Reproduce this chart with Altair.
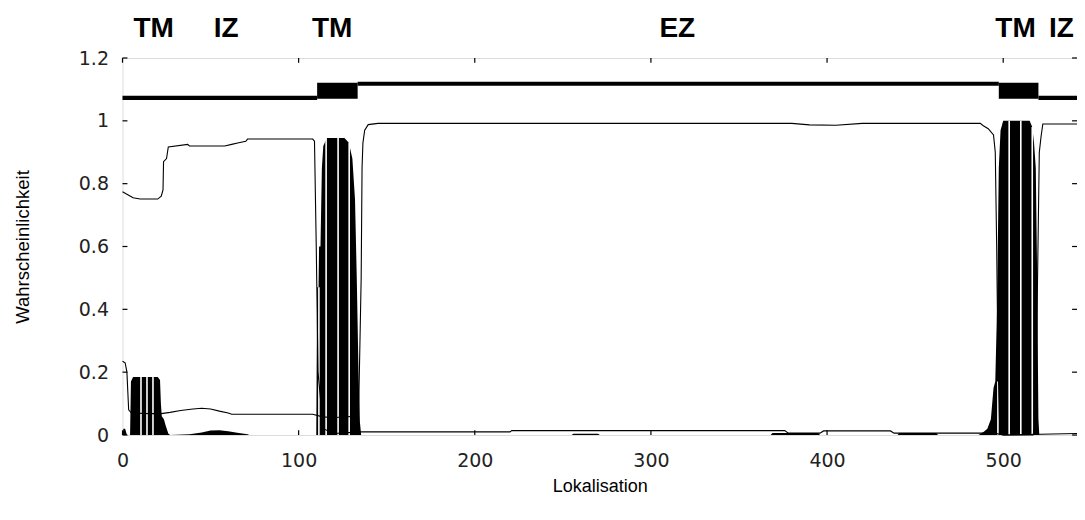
import altair as alt
import pandas as pd

# ---- data ----
# transmembrane probability (filled)
tm_x = [0, 0.5, 1.5, 2.5, 4.3, 4.8, 6, 20, 21.3, 21.8, 22.3, 23.5, 24.5, 26, 27,
        38, 45, 50, 55, 60, 66, 71, 72, 110, 110.5, 111.3, 111.6, 112.4, 113.2, 114,
        116, 126, 128.5, 130.5, 132, 133, 134, 134.8, 135.5,
        255, 256, 270, 271, 368, 369, 395, 396, 440, 441, 462, 463,
        486, 489, 491, 493, 494.5, 495.5, 496.5, 497.5, 498.5, 500, 515, 516.5,
        517.5, 518.5, 519.3, 520, 520.5, 541.9]
tm_y = [0, 0.02, 0.02, 0, 0, 0.17, 0.185, 0.185, 0.175, 0.1, 0.06, 0.05, 0.03, 0.005, 0,
        0.002, 0.008, 0.014, 0.015, 0.012, 0.006, 0.002, 0, 0, 0.47, 0.47, 0.6, 0.6, 0.85, 0.92,
        0.945, 0.945, 0.93, 0.88, 0.75, 0.5, 0.2, 0.04, 0,
        0, 0.004, 0.004, 0, 0, 0.006, 0.006, 0, 0, 0.006, 0.006, 0,
        0, 0.01, 0.02, 0.05, 0.15, 0.17, 0.4, 0.85, 0.97, 1.0, 1.0, 0.98,
        0.93, 0.85, 0.5, 0.05, 0, 0]

# inside probability (thin line)
in_x = [0, 3, 6, 10, 20, 22, 23, 23.3, 25, 26, 37, 38, 58, 62, 66, 70, 71, 108, 109,
        110, 111, 114, 120, 135, 220, 221, 376, 378, 396, 398, 436, 438, 495, 500,
        517, 518.5, 519.5, 520.5, 521.5, 522.5, 541.9]
in_y = [0.774, 0.765, 0.755, 0.751, 0.751, 0.76, 0.78, 0.87, 0.88, 0.917, 0.925, 0.92,
        0.92, 0.925, 0.93, 0.935, 0.942, 0.942, 0.935, 0.6, 0.2, 0.02, 0.005, 0.01, 0.01,
        0.014, 0.014, 0.006, 0.006, 0.013, 0.013, 0.006, 0.006, 0.0, 0.0, 0.05, 0.5,
        0.9, 0.95, 0.99, 0.99]

# outside probability (thin line)
out_x = [0, 1.5, 2.5, 3.5, 5, 15, 22, 27, 33, 40, 45, 50, 55, 60, 62, 108, 112, 118,
         128, 132, 134, 135.5, 136, 136.5, 137.5, 139.5, 145, 380, 390, 405, 420, 487,
         488.5, 491.5, 494.5, 495.5, 496.3, 497, 498, 500, 541.9]
out_y = [0.235, 0.23, 0.2, 0.08, 0.07, 0.068, 0.068, 0.072, 0.078, 0.083, 0.085, 0.083,
         0.076, 0.07, 0.066, 0.066, 0.06, 0.055, 0.058, 0.06, 0.06, 0.5, 0.85, 0.93, 0.97,
         0.988, 0.992, 0.992, 0.987, 0.986, 0.992, 0.992, 0.985, 0.975, 0.955, 0.9, 0.6,
         0.25, 0.03, 0.0, 0.005]

# predicted topology bar across the top
topo_start = [0, 110.5, 133.5, 497.5, 520]
topo_end = [110.5, 133.5, 497.5, 520, 541.9]
topo_kind = ["in", "TM", "out", "TM", "in"]

# white gaps inside the black filled peaks
stripe_x = [10.5, 13.9, 17.3, 111.5, 115.6, 122.4, 128.7, 497.0, 503.4, 510.0, 516.5]
stripe_top = [0.185, 0.185, 0.185, 0.47, 0.945, 0.945, 0.93, 0.17, 1.0, 1.0, 0.98]

# region labels above the plot
region_labels = ["TM", "IZ", "TM", "EZ", "TM", "IZ"]
region_x = [17.7, 58.8, 119, 315, 507, 533]

x_ticks = [0, 100, 200, 300, 400, 500]
y_ticks = [0, 0.2, 0.4, 0.6, 0.8, 1.0, 1.2]

X_MAX = 541.9
Y_MAX = 1.2

# ---- build tables ----
tm_df = pd.DataFrame({"x": tm_x, "y": tm_y})
in_df = pd.DataFrame({"x": in_x, "y": in_y})
out_df = pd.DataFrame({"x": out_x, "y": out_y})
stripes_df = pd.DataFrame({"x": stripe_x, "y": [0] * len(stripe_x), "y2": stripe_top})
lab_df = pd.DataFrame({"x": region_x, "label": region_labels, "y": [1.267] * len(region_x)})

level = {"in": 1.073, "out": 1.118}
line_rows = [dict(x=s, x2=e, y=level[k]) for s, e, k in zip(topo_start, topo_end, topo_kind) if k != "TM"]
box_rows = [dict(x=s, x2=e, y=1.070, y2=1.121) for s, e, k in zip(topo_start, topo_end, topo_kind) if k == "TM"]
topo_line_df = pd.DataFrame(line_rows)
topo_box_df = pd.DataFrame(box_rows)

tick_len_y = 0.015
tick_len_x = 2.8
bt = pd.DataFrame({"x": x_ticks, "y": 0.0, "y2": tick_len_y})
tt = pd.DataFrame({"x": x_ticks, "y": Y_MAX, "y2": Y_MAX - tick_len_y})
lt = pd.DataFrame({"y": y_ticks, "x": 0.0, "x2": tick_len_x})
rt = pd.DataFrame({"y": y_ticks, "x": float(X_MAX), "x2": X_MAX - tick_len_x})

xs = alt.Scale(domain=[0, X_MAX], nice=False, zero=False)
ys = alt.Scale(domain=[0, Y_MAX], nice=False)

x_axis = alt.Axis(values=x_ticks, title="Lokalisation", grid=False, domain=False, tickSize=0,
                  labelFlush=False, labelOverlap=False,
                  labelPadding=16, labelFont="DejaVu Sans", labelFontSize=19, labelColor="#222",
                  titleFont="Liberation Sans", titleFontSize=18, titleFontWeight="normal",
                  titleColor="black", titleY=51, titleBaseline="middle")
y_axis = alt.Axis(values=y_ticks, title="Wahrscheinlichkeit", grid=False, domain=False, tickSize=0,
                  labelFlush=False, labelOverlap=False,
                  labelPadding=14, labelFont="DejaVu Sans", labelFontSize=19, labelColor="#222",
                  labelExpr="datum.value == 0 ? '0' : datum.value == 1 ? '1' : format(datum.value, '.1f')",
                  titleFont="Liberation Sans", titleFontSize=18.5, titleFontWeight="normal",
                  titleColor="black", titleX=-100, titleY=188.5, titleBaseline="middle", titleAngle=270)

area = alt.Chart(tm_df).mark_area(color="black", interpolate="linear").encode(
    x=alt.X("x:Q", scale=xs, axis=x_axis),
    y=alt.Y("y:Q", scale=ys, axis=y_axis),
)

stripes = alt.Chart(stripes_df).mark_rule(color="white", strokeWidth=1.6).encode(
    x="x:Q", y="y:Q", y2="y2:Q")

in_line = alt.Chart(in_df).mark_line(color="black", strokeWidth=1.1).encode(x="x:Q", y="y:Q")
out_line = alt.Chart(out_df).mark_line(color="black", strokeWidth=1.1).encode(x="x:Q", y="y:Q")

topo_lines = alt.Chart(topo_line_df).mark_rule(color="black", strokeWidth=4.2).encode(
    x="x:Q", x2="x2:Q", y="y:Q")
topo_boxes = alt.Chart(topo_box_df).mark_rect(color="black").encode(
    x="x:Q", x2="x2:Q", y="y:Q", y2="y2:Q")

tick_b = alt.Chart(bt).mark_rule(color="black", strokeWidth=1.2).encode(x="x:Q", y="y:Q", y2="y2:Q")
tick_t = alt.Chart(tt).mark_rule(color="black", strokeWidth=1.2).encode(x="x:Q", y="y:Q", y2="y2:Q")
tick_l = alt.Chart(lt).mark_rule(color="black", strokeWidth=1.2).encode(x="x:Q", x2="x2:Q", y="y:Q")
tick_r = alt.Chart(rt).mark_rule(color="black", strokeWidth=1.2).encode(x="x:Q", x2="x2:Q", y="y:Q")

labels = alt.Chart(lab_df).mark_text(font="Liberation Sans", fontSize=28, fontWeight="bold",
                                     color="black", baseline="alphabetic", align="center").encode(
    x="x:Q", y="y:Q", text="label:N")

chart = alt.layer(area, stripes, in_line, out_line, topo_lines, topo_boxes,
                  tick_b, tick_t, tick_l, tick_r, labels).properties(
    width=954.5, height=377,
    autosize=alt.AutoSizeParams(type="none"),
    padding={"left": 114.5, "top": 50, "right": 0, "bottom": 60},
).configure_view(stroke="black", strokeWidth=1.5).configure(background="white")

chart.save("out.html", embed_options={"renderer": "svg", "actions": False})
